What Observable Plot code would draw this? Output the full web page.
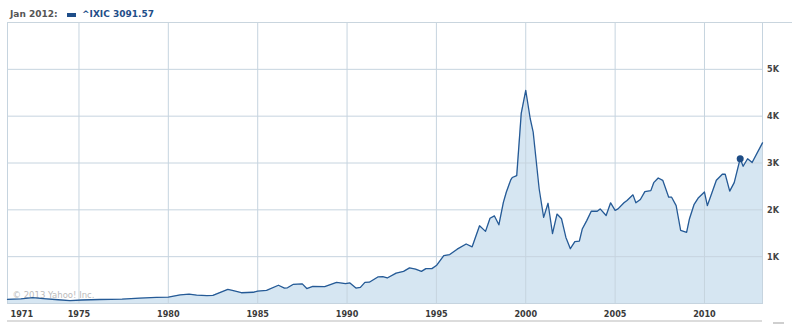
<!DOCTYPE html>
<html><head><meta charset="utf-8">
<script src="https://cdn.jsdelivr.net/npm/d3@7"></script>
<script src="https://cdn.jsdelivr.net/npm/@observablehq/plot@0.6"></script>
<style>
body{margin:0;background:#fff;width:792px;height:324px;overflow:hidden;position:relative}
#hdr{position:absolute;left:0;top:0;width:792px;height:22px}
#topline{position:absolute;left:7px;top:22px;width:785px;height:1px;background:#c9d5de}
.ht{position:absolute;top:9px;line-height:12px;font:bold 9px "DejaVu Sans",Verdana,sans-serif;white-space:nowrap}
#d{left:10px;color:#555}
#sw{position:absolute;left:67px;top:12.5px;width:9px;height:4px;background:#1f4e89}
#s{left:82px;color:#1f4e89}
#chart{position:absolute;left:0;top:22px}
#bline{position:absolute;left:7px;top:319.5px;width:755px;height:2px;background:#dcdcdc}
#bmark{position:absolute;left:773px;top:322px;width:11px;height:2px;background:#cfcfcf}
</style></head><body>
<div id="hdr"><div class="ht" id="d"></div><div id="sw"></div><div class="ht" id="s"></div></div>
<div id="chart"></div>
<div id="topline"></div>
<div id="bline"></div><div id="bmark"></div>
<script>
const headerLabel = "Jan 2012:";
const seriesName = "^IXIC";
const markerDate = "2012-01";
const markerValue = 3091.57;

const dates = [
"1971-01","1971-10","1972-06","1973-01","1973-11","1974-07","1975-03","1976-03","1977-06","1978-06",
"1979-05","1980-01","1980-09","1981-03","1981-08","1982-03","1982-07","1983-05","1983-08","1984-02",
"1984-10","1985-01","1985-07","1986-03","1986-07","1986-09","1987-01","1987-07","1987-10","1988-02",
"1988-10","1989-06","1989-12","1990-03","1990-07","1990-10","1991-01","1991-04","1991-10","1992-01",
"1992-04","1992-10","1993-03","1993-07","1993-11","1994-03","1994-06","1994-10","1995-01","1995-06",
"1995-10","1996-03","1996-09","1997-01","1997-06","1997-10","1998-01","1998-04","1998-07","1998-10",
"1998-12","1999-03","1999-04","1999-07","1999-10","2000-01","2000-04","2000-06","2000-10","2001-01",
"2001-04","2001-07","2001-10","2002-01","2002-04","2002-07","2002-10","2003-01","2003-03","2003-06",
"2003-09","2004-01","2004-03","2004-07","2004-10","2005-01","2005-03","2005-07","2005-09","2006-01",
"2006-03","2006-06","2006-09","2007-01","2007-03","2007-06","2007-09","2008-01","2008-03","2008-06",
"2008-09","2009-01","2009-03","2009-06","2009-09","2010-01","2010-03","2010-06","2010-09","2011-01",
"2011-03","2011-06","2011-09","2012-01","2012-03","2012-06","2012-09","2013-04"];
const values = [
90,100,125,105,80,60,75,85,95,115,
130,135,185,200,180,170,175,300,280,230,
240,265,280,390,330,335,410,420,320,365,
360,450,425,440,330,345,450,455,570,575,
545,650,685,760,735,685,745,745,810,1020,
1045,1160,1270,1210,1660,1540,1820,1870,1680,2160,
2380,2640,2690,2730,4060,4550,3950,3660,2450,1840,
2140,1490,1910,1810,1410,1170,1320,1330,1590,1770,
1970,1970,2020,1880,2150,1990,2020,2150,2200,2320,
2150,2220,2390,2410,2580,2680,2630,2270,2270,2090,
1560,1520,1810,2110,2260,2380,2090,2360,2630,2760,
2760,2400,2580,3091.57,2930,3090,3010,3430];

const yearTicks = [1971,1975,1980,1985,1990,1995,2000,2005,2010];
const gridYears = [1975,1980,1985,1990,1995,2000,2005,2010];
const yTicks = [1000,2000,3000,4000,5000];
const xStart = "1971-01", xEnd = "2013-04";
const copyright = "© 2013 Yahoo! Inc.";

document.getElementById("d").textContent = headerLabel;
document.getElementById("s").textContent = seriesName + " " + markerValue.toFixed(2);

const parse = d3.utcParse("%Y-%m");
const data = dates.map((d, i) => ({date: parse(d), value: values[i]}));
const yr = y => new Date(Date.UTC(y, 0, 1));
const gridC = "#c6d4df";
const font = '"DejaVu Sans Condensed","DejaVu Sans",Verdana,sans-serif';

const chart = Plot.plot({
  width: 792, height: 296,
  marginLeft: 7, marginRight: 30, marginTop: 0, marginBottom: 15,
  style: {fontFamily: font, background: "transparent"},
  x: {type: "utc", domain: [parse(xStart), parse(xEnd)], axis: null, label: null},
  y: {domain: [0, 6000], axis: null, label: null},
  marks: [
    Plot.areaY(data, {x: "date", y: "value", fill: "#d6e6f2"}),
    Plot.gridX(gridYears.map(yr), {stroke: gridC, strokeOpacity: 1}),
    Plot.gridY(yTicks, {stroke: gridC, strokeOpacity: 1}),
    Plot.frame({stroke: gridC}),
    Plot.text([copyright], {frameAnchor: "bottom-left", dx: 5, dy: -8, lineAnchor: "middle", textAnchor: "start", fill: "#bbbbbb", fontSize: 8.5, fontFamily: '"DejaVu Sans",sans-serif'}),
    Plot.lineY(data, {x: "date", y: "value", stroke: "#255a96", strokeWidth: 1.3}),
    Plot.dot([{date: parse(markerDate), value: markerValue}], {x: "date", y: "value", r: 3.5, fill: "#1d4c85", stroke: "none"}),
    Plot.axisX([yr(yearTicks[0])], {label: null, tickSize: 0, tickPadding: 7, tickFormat: d => String(d.getUTCFullYear()), textAnchor: "start", dx: 3, fontWeight: "bold", fontSize: 9, fill: "#3a3a3a"}),
    Plot.axisX(yearTicks.slice(1).map(yr), {label: null, tickSize: 0, tickPadding: 7, tickFormat: d => String(d.getUTCFullYear()), fontWeight: "bold", fontSize: 9, fill: "#3a3a3a"}),
    Plot.axisY(yTicks, {label: null, anchor: "right", tickSize: 0, tickPadding: 4.5, tickFormat: d => d / 1000 + "K", fontWeight: "bold", fontSize: 9, fill: "#444"})
  ]
});
document.getElementById("chart").appendChild(chart);
</script>
</body></html>
